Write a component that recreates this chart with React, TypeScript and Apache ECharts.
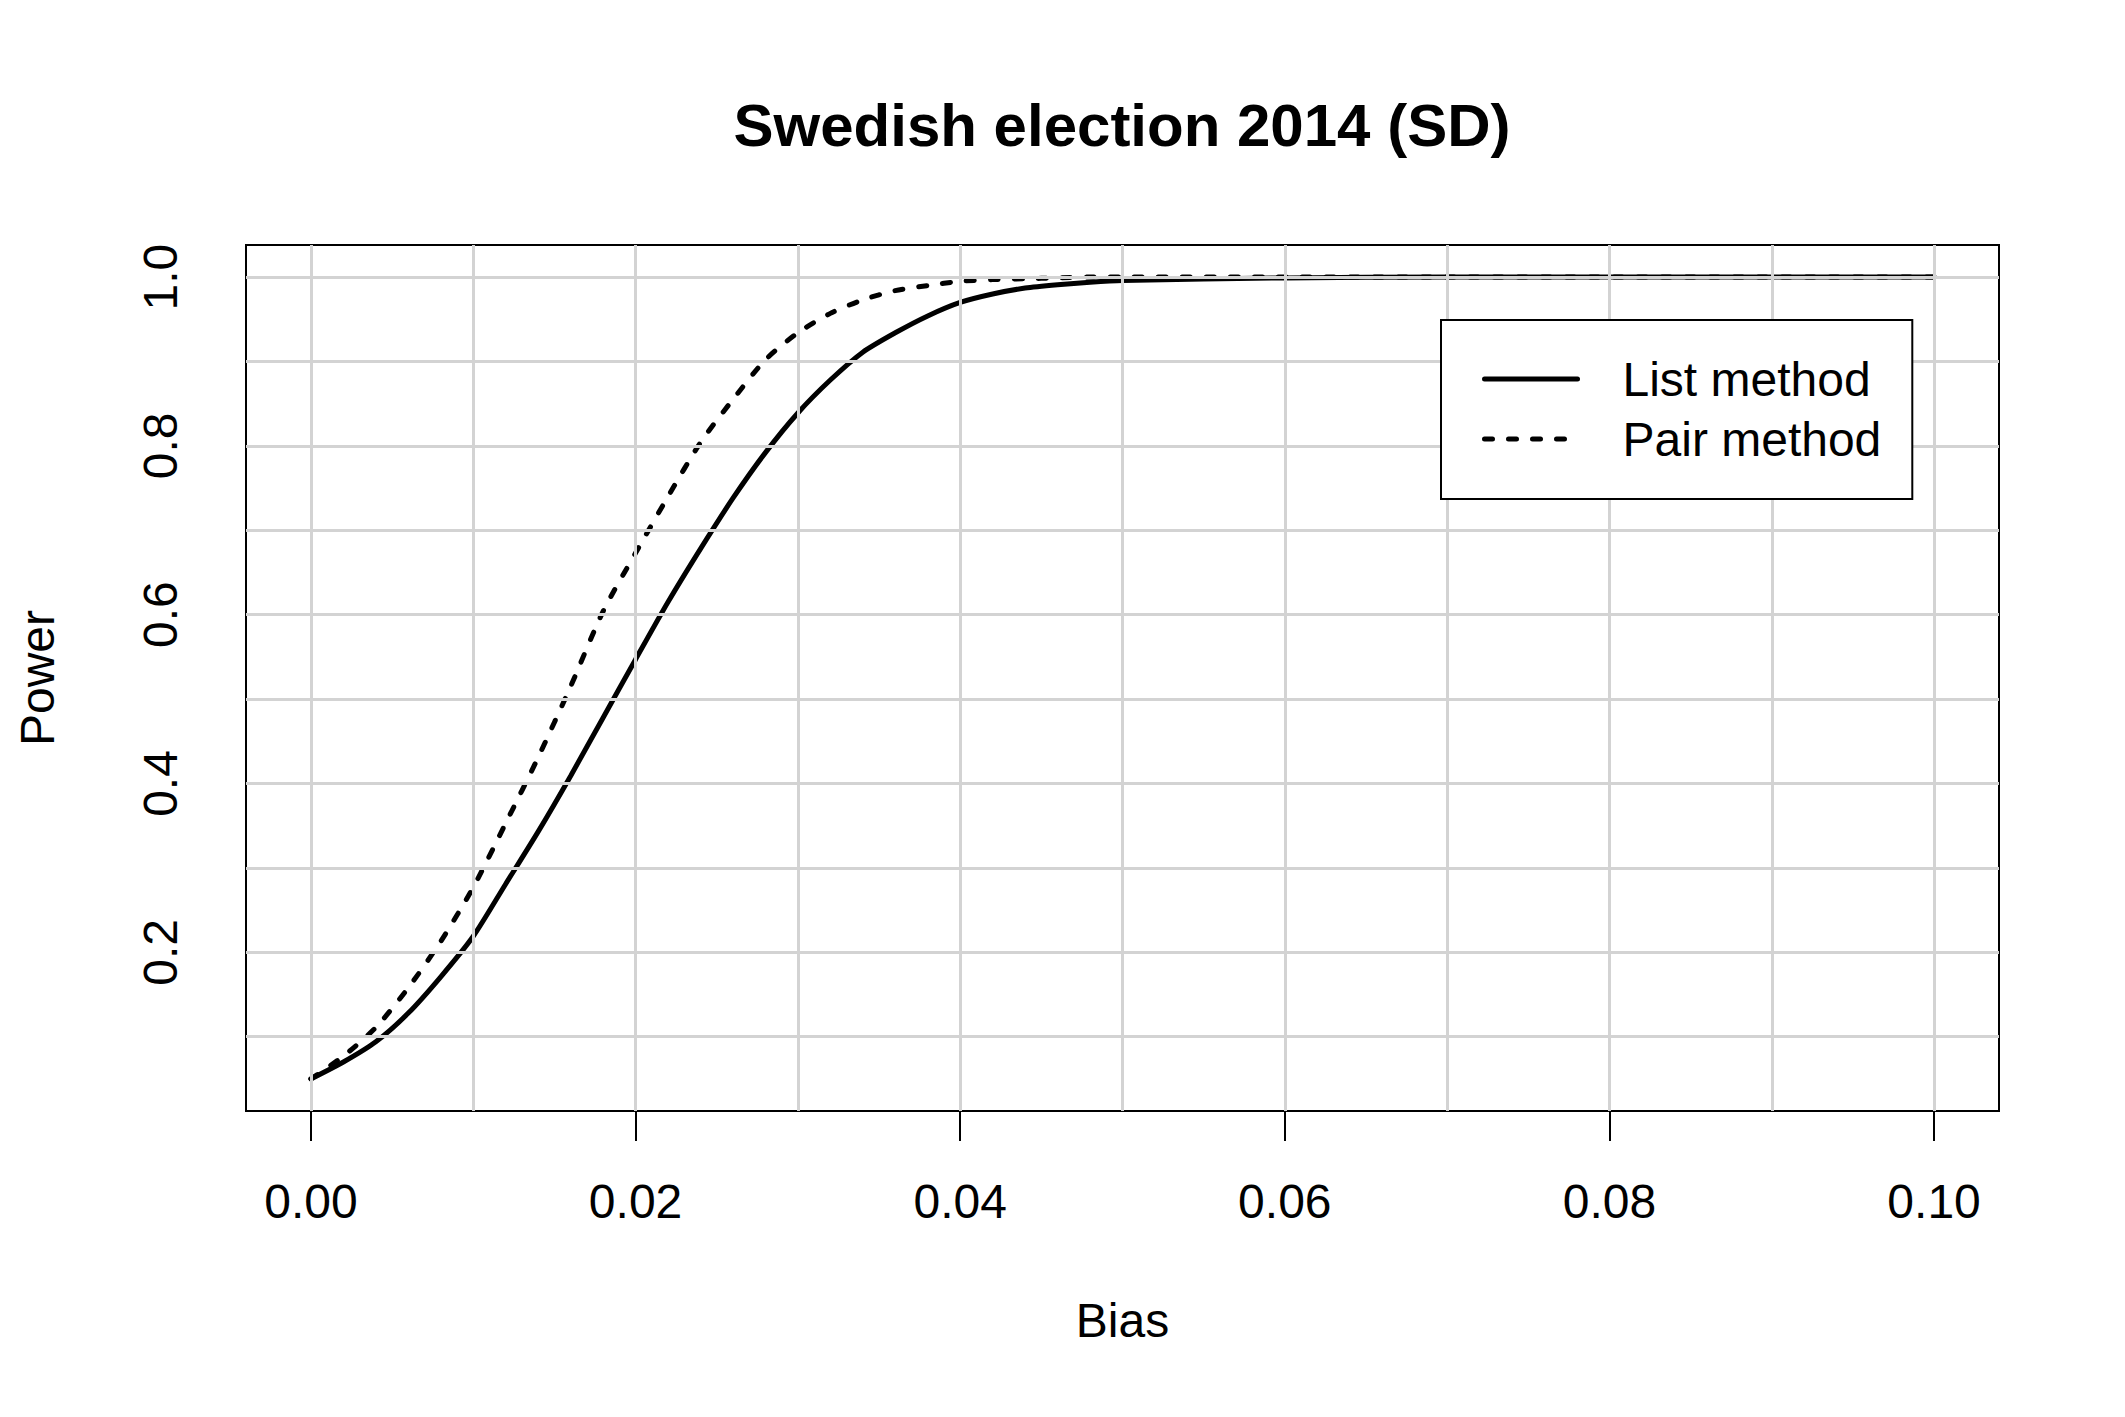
import React, { useEffect, useRef } from "react";
import * as echarts from "echarts";

const bias = [
  0, 0.002, 0.004, 0.006, 0.008, 0.01, 0.012, 0.014, 0.016, 0.018, 0.02,
  0.022, 0.024, 0.026, 0.028, 0.03, 0.032, 0.034, 0.036, 0.038, 0.04,
  0.042, 0.044, 0.046, 0.048, 0.05, 0.06, 0.07, 0.08, 0.09, 0.1,
];
const listMethod = [
  0.05, 0.07, 0.094, 0.128, 0.171, 0.219, 0.281, 0.343, 0.409, 0.478, 0.547,
  0.615, 0.678, 0.738, 0.792, 0.839, 0.878, 0.911, 0.934, 0.954, 0.97,
  0.98, 0.987, 0.991, 0.994, 0.996, 0.999, 1, 1, 1, 1,
];
const pairMethod = [
  0.05, 0.077, 0.111, 0.158, 0.213, 0.277, 0.353, 0.431, 0.515, 0.604, 0.673,
  0.74, 0.804, 0.855, 0.902, 0.934, 0.957, 0.973, 0.984, 0.99, 0.995,
  0.997, 0.998, 0.999, 1, 1, 1, 1, 1, 1, 1,
];
const xTicks = [0, 0.02, 0.04, 0.06, 0.08, 0.1];
const yTicks = [0.2, 0.4, 0.6, 0.8, 1.0];
const gridX = [0, 0.01, 0.02, 0.03, 0.04, 0.05, 0.06, 0.07, 0.08, 0.09, 0.1];
const gridY = [0.1, 0.2, 0.3, 0.4, 0.5, 0.6, 0.7, 0.8, 0.9, 1.0];

const FONT = "'Liberation Sans', Arial, Helvetica, sans-serif";

export default function App() {
  const ref = useRef<HTMLDivElement>(null);
  useEffect(() => {
    document.body.style.margin = "0";
    const chart = echarts.init(ref.current!, null, { renderer: "svg" });
    const toPairs = (ys: number[]) => bias.map((b, i) => [b, ys[i]]);
    chart.setOption({
      animation: false,
      backgroundColor: "#ffffff",
      textStyle: { fontFamily: FONT },
      title: {
        text: "Swedish election 2014 (SD)",
        left: 1122,
        top: 95,
        textAlign: "center",
        padding: 0,
        textStyle: { fontFamily: FONT, fontWeight: "bold", fontSize: 60, color: "#000" },
      },
      grid: {
        left: 246,
        right: 126,
        top: 245,
        bottom: 306,
        show: true,
        borderColor: "#000",
        borderWidth: 2,
        backgroundColor: "transparent",
      },
      legend: {
        orient: "vertical",
        left: 1441,
        top: 320,
        z: 10,
        padding: [35, 31, 36, 41],
        itemWidth: 93,
        itemHeight: 48,
        itemGap: 12,
        backgroundColor: "#ffffff",
        borderColor: "#000",
        borderWidth: 2,
        borderRadius: 0,
        selectedMode: false,
        itemStyle: { opacity: 0 },
        lineStyle: { width: 5, cap: "round" },
        textStyle: { fontFamily: FONT, fontSize: 48, color: "#000", lineHeight: 48, padding: [0, 0, 0, 40] },
        data: ["List method", "Pair method"],
      },
      xAxis: {
        type: "value",
        min: -0.004,
        max: 0.104,
        name: "Bias",
        nameLocation: "middle",
        nameGap: 185,
        nameTextStyle: { fontFamily: FONT, fontSize: 48, color: "#000" },
        axisLine: { show: false },
        splitLine: { show: false },
        axisTick: {
          show: true,
          inside: false,
          length: 30,
          customValues: xTicks,
          lineStyle: { color: "#000", width: 2 },
        },
        axisLabel: {
          show: true,
          margin: 66,
          customValues: xTicks,
          fontFamily: FONT,
          fontSize: 48,
          color: "#000",
          formatter: (v: number) => v.toFixed(2),
        },
      },
      yAxis: {
        type: "value",
        min: 0.012,
        max: 1.038,
        name: "Power",
        nameLocation: "middle",
        nameGap: 185,
        nameRotate: 90,
        nameTextStyle: { fontFamily: FONT, fontSize: 48, color: "#000" },
        axisLine: { show: false },
        splitLine: { show: false },
        axisTick: {
          show: true,
          inside: false,
          length: 31,
          customValues: yTicks,
          lineStyle: { color: "#000", width: 2 },
        },
        axisLabel: {
          show: true,
          rotate: 90,
          margin: 62,
          customValues: yTicks,
          fontFamily: FONT,
          fontSize: 48,
          color: "#000",
          formatter: (v: number) => v.toFixed(1),
        },
      },
      series: [
        {
          name: "List method",
          type: "line",
          data: toPairs(listMethod),
          symbol: "none",
          smooth: 0.25,
          silent: true,
          lineStyle: { color: "#000", width: 5, type: "solid", cap: "round" },
          itemStyle: { color: "#000" },
          emphasis: { disabled: true },
        },
        {
          name: "Pair method",
          type: "line",
          data: toPairs(pairMethod),
          symbol: "none",
          smooth: 0.25,
          silent: true,
          lineStyle: { color: "#000", width: 5, type: [8, 16], cap: "round" },
          itemStyle: { color: "#000" },
          emphasis: { disabled: true },
          markLine: {
            silent: true,
            symbol: ["none", "none"],
            label: { show: false },
            emphasis: { disabled: true },
            lineStyle: { color: "#d3d3d3", width: 3, type: "solid" },
            data: [
              ...gridX.map((v) => ({ xAxis: v })),
              ...gridY.map((v) => ({ yAxis: v })),
            ],
          },
        },
      ],
    });
    return () => chart.dispose();
  }, []);
  return <div ref={ref} style={{ width: 2125, height: 1417 }} />;
}
